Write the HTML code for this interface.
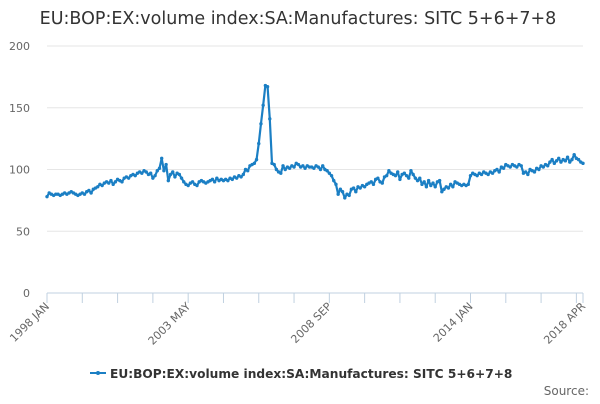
<!DOCTYPE html>
<html><head><meta charset="utf-8"><style>
body{margin:0;background:#fff;width:600px;height:400px;overflow:hidden;font-family:"DejaVu Sans","Liberation Sans",sans-serif}
</style></head><body>
<svg id="chart" width="600" height="400" xmlns="http://www.w3.org/2000/svg">
<text x="298" y="24" text-anchor="middle" font-size="17.5" fill="#333">EU:BOP:EX:volume index:SA:Manufactures: SITC 5+6+7+8</text>
<g id="grid"></g><g id="xaxis"></g><g id="series"></g>
<g transform="translate(90,373)">
<line x1="0" y1="0" x2="16" y2="0" stroke="#1b7fc4" stroke-width="2"/>
<circle cx="8" cy="0" r="2" fill="#1b7fc4"/>
<text x="20" y="5" font-size="12.2" font-weight="bold" fill="#333">EU:BOP:EX:volume index:SA:Manufactures: SITC 5+6+7+8</text>
</g>
<text x="589" y="395" text-anchor="end" font-size="12" fill="#666">Source:</text>
</svg>
<script>
const yTicks=[0,50,100,150,200];
const xLabels=["1998 JAN","2003 MAY","2008 SEP","2014 JAN","2018 APR"];
const xLabelIdx=[0,64,128,192,243];
const values=[
78,81,80,79,80,80,79,80,81,80,81,82,
81,80,79,80,81,80,82,83,81,84,85,86,
88,87,89,90,89,91,88,90,92,91,90,93,
94,93,95,96,95,97,98,97,99,98,96,97,
93,95,99,101,109,99,104,91,96,98,94,97,
96,93,90,88,87,89,90,88,87,90,91,90,
89,90,91,92,90,93,91,92,91,92,91,93,
92,94,93,95,94,96,100,99,103,104,105,108,
121,137,152,168,167,141,105,104,100,98,97,103,
100,102,101,103,102,105,104,102,103,101,103,102,
102,101,103,102,100,103,100,99,97,95,91,88,
80,84,82,77,80,79,84,85,82,86,85,87,
86,88,89,90,88,92,93,90,89,94,95,99,
97,96,95,98,92,96,97,95,93,99,96,93,
91,93,88,90,86,91,87,89,86,90,91,82,
84,86,85,88,86,90,89,88,87,88,87,88,
95,97,96,95,97,96,98,97,96,98,97,99,
100,98,102,101,104,103,102,104,103,102,104,103,
97,98,96,100,99,98,101,100,103,102,104,103,
106,108,105,107,109,106,108,107,110,106,108,112,
109,108,106,105];
const NS="http://www.w3.org/2000/svg";
const X0=47,X1=583,Y0=293,Y1=46,N=values.length;
const xs=i=>X0+(X1-X0)*i/(N-1);
const ys=v=>Y0-(Y0-Y1)*v/200;
function mk(t,a,p){const e=document.createElementNS(NS,t);for(const k in a)e.setAttribute(k,a[k]);p.appendChild(e);return e;}
const grid=document.getElementById('grid');
yTicks.forEach(v=>{
 if(v>0){const l=mk('line',{x1:X0,x2:X1,y1:ys(v),y2:ys(v),stroke:'#e6e6e6'},grid);
 
 }
 const t=mk('text',{x:30,y:ys(v)+4,'text-anchor':'end','font-size':11,fill:'#666'},grid);t.textContent=v;
 
 
});
const xa=document.getElementById('xaxis');
const ax=mk('line',{x1:X0,x2:X1,y1:Y0,y2:Y0,stroke:'#c0d0e0'},xa);


for(let i=0;i<N;i+=16){mk('line',{x1:xs(i),x2:xs(i),y1:Y0,y2:Y0+10,stroke:'#c0d0e0'},xa);}
mk('line',{x1:xs(N-1),x2:xs(N-1),y1:Y0,y2:Y0+10,stroke:'#c0d0e0'},xa);
xLabels.forEach((s,k)=>{
 const x=xs(xLabelIdx[k]);
 const t=mk('text',{x:x+3,y:Y0+14,'text-anchor':'end','font-size':11,fill:'#666',transform:`rotate(-45 ${x+3} ${Y0+14})`},xa);
 t.textContent=s;
 
 
});
const sg=document.getElementById('series');
const p=mk('polyline',{points:values.map((v,i)=>xs(i)+','+ys(v)).join(' '),fill:'none',stroke:'#1b7fc4','stroke-width':2.2,'stroke-linejoin':'round'},sg);


values.forEach((v,i)=>{
 const c=mk('circle',{cx:xs(i),cy:ys(v),r:1.7,fill:'#1b7fc4'},sg);
 
 
});
</script>
</body></html>
